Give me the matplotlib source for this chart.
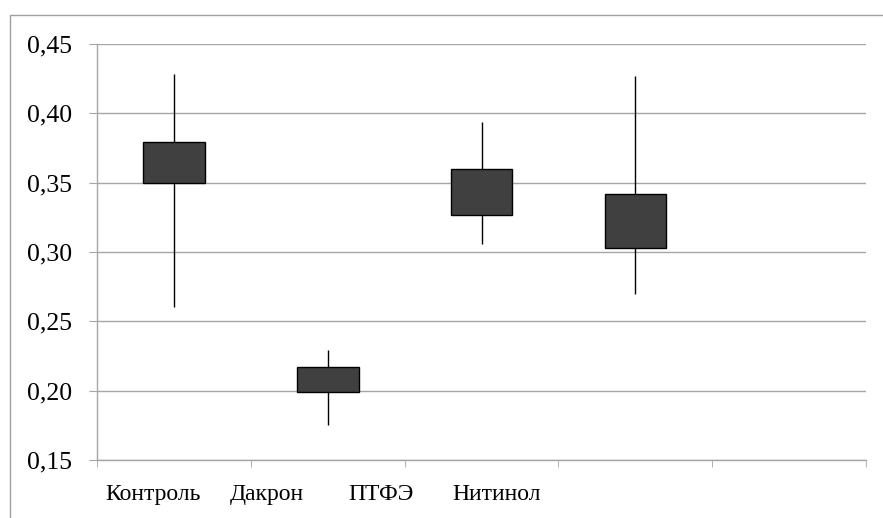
import matplotlib
matplotlib.use("Agg")
import matplotlib.pyplot as plt
from matplotlib.patches import Rectangle

plt.rcParams['font.family'] = ['Liberation Serif', 'DejaVu Serif']

# Candlestick values per group: whisker low/high, box low/high
groups = ["Контроль", "Дакрон", "ПТФЭ", "Нитинол"]
low = [0.260, 0.175, 0.306, 0.270]
high = [0.428, 0.229, 0.394, 0.427]
box_low = [0.350, 0.199, 0.327, 0.303]
box_high = [0.379, 0.217, 0.360, 0.342]
n_slots = 5
label_pos = [0.364, 1.105, 1.847, 2.60]

yticks = [0.15, 0.20, 0.25, 0.30, 0.35, 0.40, 0.45]

grid_col = "#a6a6a6"

fig = plt.figure(figsize=(8.83, 5.18), dpi=100)
ax = fig.add_axes([0.1099, 0.1120, 0.8709, 0.8031])

# outer chart border
fig.patches.append(Rectangle((10 / 883, -0.1), 1.2, 1 - 15 / 518 + 0.1,
                             transform=fig.transFigure, fill=False,
                             edgecolor="#a0a0a0", linewidth=1.0))

for i in range(len(groups)):
    x = i + 0.5
    ax.vlines(x, low[i], high[i], color="black", linewidth=1.0, zorder=3)
    ax.add_patch(Rectangle((x - 0.2, box_low[i]), 0.4, box_high[i] - box_low[i],
                           facecolor="#404040", edgecolor="black",
                           linewidth=1.0, zorder=4))

ax.set_xlim(0, n_slots)
ax.set_ylim(0.15, 0.45)
ax.set_yticks(yticks)
ax.set_yticklabels([f"{v:.2f}".replace(".", ",") for v in yticks])
ax.yaxis.grid(True, color=grid_col, linewidth=1.0)
ax.set_axisbelow(True)

ax.set_xticks(label_pos)
ax.set_xticklabels(groups, fontsize=17)
ax.set_xticks(range(n_slots + 1), minor=True)
ax.tick_params(axis="x", which="major", length=0, pad=17)
ax.tick_params(axis="x", which="minor", length=5, color=grid_col, direction="out")
ax.tick_params(axis="y", length=6, color=grid_col, direction="out",
               labelsize=18.5, pad=12)

for side in ["top", "right"]:
    ax.spines[side].set_visible(False)
for side in ["left", "bottom"]:
    ax.spines[side].set_color(grid_col)
    ax.spines[side].set_linewidth(1.0)

fig.savefig("out.png", dpi=100)
